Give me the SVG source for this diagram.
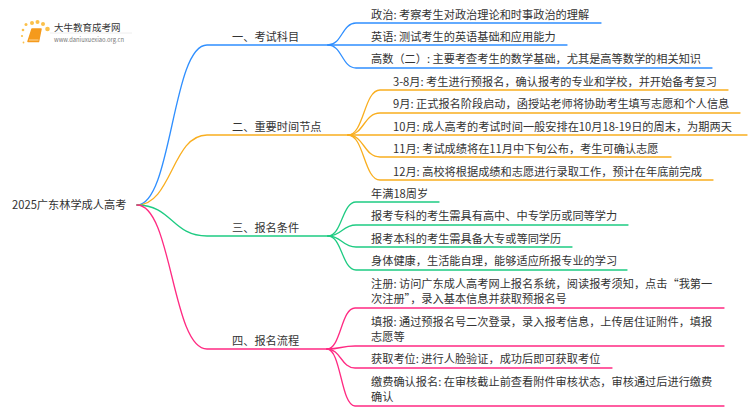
<svg xmlns="http://www.w3.org/2000/svg" width="750" height="410" viewBox="0 0 750 410">
<style>
text{font-family:"Noto Sans CJK SC","Liberation Sans",sans-serif;font-size:11.2px;fill:#333}
.c{fill:none;stroke-width:1.3;stroke-linecap:round}
.b{stroke:#2f8fff}.o{stroke:#f9ae1f}.g{stroke:#1ecb82}.p{stroke:#ff2a82}
.d{fill:#fbc04a}
</style>
<rect width="750" height="410" fill="#fff"/>
<g id="connectors">
<path class="c b" d="M137 205C172 205 172 45 207 45H328"/>
<path class="c o" d="M137 205C172 205 172 135 207 135H348"/>
<path class="c g" d="M137 205C172 205 172 236 207 236H328"/>
<path class="c p" d="M137 205C172 205 172 349 207 349H327"/>
<path class="c b" d="M328 45C342 45 342 23 356 23H601"/>
<path class="c b" d="M328 45H567"/>
<path class="c b" d="M328 45C342 45 342 68 356 68H712"/>
<path class="c o" d="M348 135C364 135 364 90 380 90H728"/>
<path class="c o" d="M348 135C364 135 364 113 380 113H740"/>
<path class="c o" d="M348 135H747"/>
<path class="c o" d="M348 135C364 135 364 157 380 157H671"/>
<path class="c o" d="M348 135C364 135 364 180 380 180H713"/>
<path class="c g" d="M328 236C342 236 342 202 356 202H439"/>
<path class="c g" d="M328 236C342 236 342 225 356 225H628"/>
<path class="c g" d="M328 236C342 236 342 247 356 247H572"/>
<path class="c g" d="M328 236C342 236 342 270 356 270H627"/>
<path class="c p" d="M327 349C341 349 341 308 355 308H724"/>
<path class="c p" d="M327 349C341 349 341 346 355 346H724"/>
<path class="c p" d="M327 349C341 349 341 368 355 368H612"/>
<path class="c p" d="M327 349C341 349 341 406 355 406H724"/>
</g>
<g id="logo">
<circle class="d" cx="26" cy="24.500" r="1.500"/><circle class="d" cx="32" cy="23" r="2"/><circle class="d" cx="37.500" cy="22" r="2"/><circle class="d" cx="43" cy="24" r="2"/><circle class="d" cx="47.500" cy="29" r="2.300"/><circle class="d" cx="23" cy="30" r="1.300"/><circle class="d" cx="22" cy="36" r="1.100"/><circle class="d" cx="23.500" cy="42.500" r="0.900"/>
<path d="M32 29H41L38.500 41.500H28Z" fill="#f59a1c" stroke="#f59a1c" stroke-width="1.500" stroke-linejoin="round"/>
<path d="M29 40H38.500" stroke="#fcd79a" stroke-width="1"/>
<path d="M50 33H132" stroke="#eee" stroke-width="1"/>
<text x="54" y="31" style="font-size:9.500px">大牛教育成考网</text>
<text x="54" y="41.500" style="font-size:5.800px;fill:#777">www.daniuxuexiao.org.cn</text>
</g>
<g id="root"><text x="12" y="209">2025广东林学成人高考</text></g>
<g id="branch-1"><text x="232" y="41">一、考试科目</text></g>
<g id="branch-2"><text x="232" y="131">二、重要时间节点</text></g>
<g id="branch-3"><text x="232" y="232">三、报名条件</text></g>
<g id="branch-4"><text x="232" y="345">四、报名流程</text></g>
<g id="leaf-1-1"><text x="371" y="19">政治: 考察考生对政治理论和时事政治的理解</text></g>
<g id="leaf-1-2"><text x="371" y="41">英语: 测试考生的英语基础和应用能力</text></g>
<g id="leaf-1-3"><text x="371" y="63">高数（二）: 主要考查考生的数学基础，尤其是高等数学的相关知识</text></g>
<g id="leaf-2-1"><text x="393" y="86">3-8月: 考生进行预报名，确认报考的专业和学校，并开始备考复习</text></g>
<g id="leaf-2-2"><text x="393" y="108">9月: 正式报名阶段启动，函授站老师将协助考生填写志愿和个人信息</text></g>
<g id="leaf-2-3"><text x="393" y="131">10月: 成人高考的考试时间一般安排在10月18-19日的周末，为期两天</text></g>
<g id="leaf-2-4"><text x="393" y="153">11月: 考试成绩将在11月中下旬公布，考生可确认志愿</text></g>
<g id="leaf-2-5"><text x="393" y="176">12月: 高校将根据成绩和志愿进行录取工作，预计在年底前完成</text></g>
<g id="leaf-3-1"><text x="371" y="198">年满18周岁</text></g>
<g id="leaf-3-2"><text x="371" y="220">报考专科的考生需具有高中、中专学历或同等学力</text></g>
<g id="leaf-3-3"><text x="371" y="243">报考本科的考生需具备大专或等同学历</text></g>
<g id="leaf-3-4"><text x="371" y="265">身体健康，生活能自理，能够适应所报专业的学习</text></g>
<g id="leaf-4-1"><text x="371" y="288">注册: 访问广东成人高考网上报名系统，阅读报考须知，点击“我第一</text><text x="371" y="303">次注册”，录入基本信息并获取预报名号</text></g>
<g id="leaf-4-2"><text x="371" y="326">填报: 通过预报名号二次登录，录入报考信息，上传居住证附件，填报</text><text x="371" y="341">志愿等</text></g>
<g id="leaf-4-3"><text x="371" y="363">获取考位: 进行人脸验证，成功后即可获取考位</text></g>
<g id="leaf-4-4"><text x="371" y="386">缴费确认报名: 在审核截止前查看附件审核状态，审核通过后进行缴费</text><text x="371" y="401">确认</text></g>
</svg>
